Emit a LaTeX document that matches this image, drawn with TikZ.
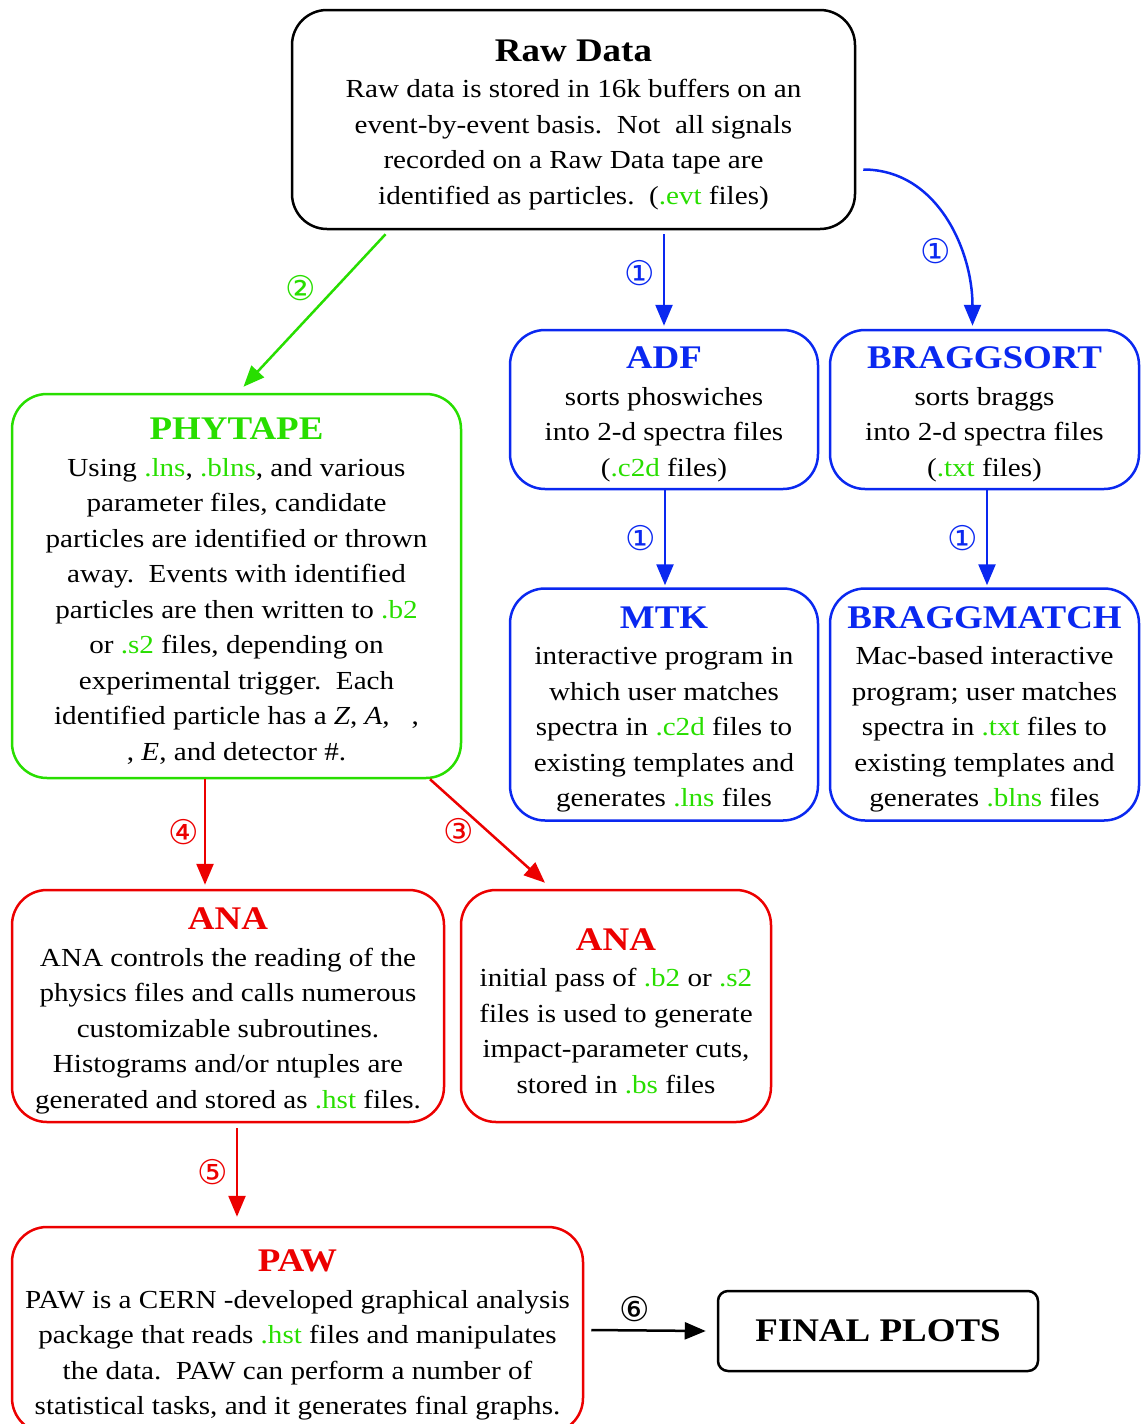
\documentclass[tikz,border=0pt]{standalone}
\usepackage{fontspec}
\setmainfont[FakeStretch=1.12]{Liberation Serif}
\newfontfamily\circfont{DejaVu Sans}
\usetikzlibrary{positioning,calc,arrows.meta}
\definecolor{phygreen}{RGB}{40,222,0}
\definecolor{sortblue}{RGB}{10,40,240}
\definecolor{anared}{RGB}{236,0,0}
\newcommand{\ext}[1]{\textcolor{phygreen}{#1}}
\newcommand{\boxtitle}[1]{\rule{0pt}{32pt}{\fontsize{33}{40}\selectfont\bfseries #1}\\[1pt]}
\tikzstyle{stage} = [draw, rounded corners=35pt, line width=2.5pt, inner sep=0pt, align=center, font=\fontsize{26}{35.5}\selectfont]
\tikzstyle{rawbox} = [stage, draw=black]
\tikzstyle{phybox} = [stage, draw=phygreen]
\tikzstyle{sortbox} = [stage, draw=sortblue]
\tikzstyle{anabox} = [stage, draw=anared]
\tikzstyle{endbox} = [draw, rounded corners=10pt, line width=2.5pt, inner sep=0pt, font=\fontsize{33}{40}\selectfont\bfseries]
\tikzstyle{to} = [-{Triangle[length=21pt,width=17pt]}, line width=2.5pt]
\tikzstyle{num} = [inner sep=0pt, font=\circfont\fontsize{34}{34}\selectfont]

\begin{document}
\begin{tikzpicture}[x=1pt,y=-1pt]
		\useasboundingbox (0,0) rectangle (1141,1424);
		% boxes
		\node (raw) [rawbox, minimum width=563pt, minimum height=219pt] at (573.5,119.5)
			{\boxtitle{Raw Data}
			Raw data is stored in 16k buffers on an\\
			event-by-event basis.\ \ Not\ \ all signals\\
			recorded on a Raw Data tape are\\
			identified as particles.\ \ (\ext{.evt} files)};
		\node (phy) [phybox, minimum width=449pt, minimum height=384pt] at (236.5,586)
			{\boxtitle{\textcolor{phygreen}{PHYTAPE}}
			Using \ext{.lns}, \ext{.blns}, and various\\
			parameter files, candidate\\
			particles are identified or thrown\\
			away.\ \ Events with identified\\
			particles are then written to \ext{.b2}\\
			or \ext{.s2} files, depending on\\
			experimental trigger.\ \ Each\\
			identified particle has a \textit{Z}, \textit{A}, \hphantom{x},\\
			, \textit{E}, and detector \#.};
		\node (adf) [sortbox, minimum width=308pt, minimum height=159pt] at (664,409.5)
			{\boxtitle{\textcolor{sortblue}{ADF}}
			sorts phoswiches\\
			into 2-d spectra files\\
			(\ext{.c2d} files)};
		\node (bsort) [sortbox, minimum width=309pt, minimum height=159pt] at (984.5,409.5)
			{\boxtitle{\textcolor{sortblue}{BRAGGSORT}}
			sorts braggs\\
			into 2-d spectra files\\
			(\ext{.txt} files)};
		\node (mtk) [sortbox, minimum width=308pt, minimum height=232pt, below=97pt of adf]
			{\boxtitle{\textcolor{sortblue}{MTK}}
			interactive program in\\
			which user matches\\
			spectra in \ext{.c2d} files to\\
			existing templates and\\
			generates \ext{.lns} files};
		\node (bmatch) [sortbox, minimum width=309pt, minimum height=232pt, below=97pt of bsort]
			{\boxtitle{\textcolor{sortblue}{BRAGGMATCH}}
			Mac-based interactive\\
			program; user matches\\
			spectra in \ext{.txt} files to\\
			existing templates and\\
			generates \ext{.blns} files};
		\node (anaL) [anabox, minimum width=432pt, minimum height=232pt] at (228,1006)
			{\boxtitle{\textcolor{anared}{ANA}}
			ANA controls the reading of the\\
			physics files and calls numerous\\
			customizable subroutines.\\
			Histograms and/or ntuples are\\
			generated and stored as \ext{.hst} files.};
		\node (anaR) [anabox, minimum width=310pt, minimum height=232pt] at (616,1006)
			{\boxtitle{\textcolor{anared}{ANA}}
			initial pass of \ext{.b2} or \ext{.s2}\\
			files is used to generate\\
			impact-parameter cuts,\\
			stored in \ext{.bs} files};
		\node (paw) [anabox, minimum width=571pt, minimum height=206pt] at (297.5,1330)
			{\boxtitle{\textcolor{anared}{PAW}}
			PAW is a CERN -developed graphical analysis\\
			package that reads \ext{.hst} files and manipulates\\
			the data.\ \ PAW can perform a number of\\
			statistical tasks, and it generates final graphs.};
		\node (final) [endbox, minimum width=320pt, minimum height=80pt] at (878,1331) {FINAL PLOTS};
		% arrows
		\draw[to,phygreen] ([xshift=-188pt,yshift=-4pt]raw.south) -- node[num,phygreen,pos=0.35,left=19pt] {②} ([xshift=7pt,yshift=6pt]phy.north);
		\draw[to,sortblue] ([xshift=90.5pt,yshift=-4pt]raw.south) -- node[num,sortblue,pos=0.42,left=8pt] {①} ([yshift=3pt]adf.north);
		\draw[to,sortblue] ([xshift=7pt,yshift=-50pt]raw.east) to[out=0,in=90] node[num,sortblue,pos=0.66,left=8pt] {①} ([xshift=-12pt,yshift=3pt]bsort.north);
		\draw[to,sortblue] ([xshift=1pt]adf.south) -- node[num,sortblue,left=8pt] {①} ([xshift=1pt,yshift=2pt]mtk.north);
		\draw[to,sortblue] ([xshift=2.5pt]bsort.south) -- node[num,sortblue,left=8pt] {①} ([xshift=2.5pt,yshift=2pt]bmatch.north);
		\draw[to,anared] ([xshift=-31.5pt]phy.south) -- node[num,anared,left=5pt] {④} ([xshift=-23pt,yshift=4pt]anaL.north);
		\draw[to,anared] ([xshift=193.5pt]phy.south) -- node[num,anared,pos=0.5,left=12pt] {③} ([xshift=-71pt,yshift=6pt]anaR.north);
		\draw[to,anared] ([xshift=9pt,yshift=-5pt]anaL.south) -- node[num,anared,left=8pt] {⑤} ([xshift=-60.5pt,yshift=9pt]paw.north);
		\draw[to] ([xshift=7pt]paw.east) -- node[num,pos=0.38,above=7pt] {⑥} ([xshift=-11pt]final.west);
\end{tikzpicture}
\end{document}
